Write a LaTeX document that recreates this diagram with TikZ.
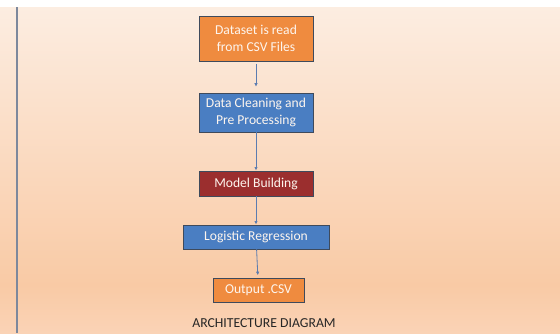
\documentclass[tikz,border=0pt]{standalone}
\usepackage{fontspec}
\setmainfont{Carlito}
\usepackage{xcolor}
\usepackage{tikz}
\usetikzlibrary{arrows.meta}
\definecolor{adorange}{HTML}{EF8B3F}
\definecolor{adblue}{HTML}{4A7EC2}
\definecolor{adred}{HTML}{9B2E2E}
\definecolor{adedge}{HTML}{3E4A5C}
\definecolor{adarrow}{HTML}{5B7CB0}
\definecolor{adtop}{HTML}{FCEDE1}
\definecolor{admid}{HTML}{F9CAA5}
\definecolor{adbot}{HTML}{FAD3B6}
\definecolor{adrule}{HTML}{7D889C}
\definecolor{adtext}{HTML}{FDF5EE}
\tikzset{
  adbox/.style={draw=adedge, line width=0.8pt, text=adtext, align=center,
    inner sep=0pt, font=\fontsize{11.6}{14.5}\selectfont},
  adorangebox/.style={adbox, fill=adorange},
  adbluebox/.style={adbox, fill=adblue},
  adredbox/.style={adbox, fill=adred},
  adflow/.style={draw=adarrow, line width=0.7pt, -{Latex[length=3pt,width=3pt]}},
  adtitle/.style={text=black!85, font=\fontsize{11.7}{13}\selectfont},
}

\begin{document}
\begin{tikzpicture}[x=0.03cm,y=-0.03cm]
\useasboundingbox (0,0) rectangle (560,333);
% background
\fill[white] (0,0) rectangle (560,7);
\shade[top color=adtop, bottom color=admid] (0,7) rectangle (560,285);
\shade[top color=admid, bottom color=adbot] (0,285) rectangle (560,333);
\draw[adrule, line width=1.4pt] (17,7) -- (17,333);
% boxes
\node[adorangebox, minimum width=114*0.03cm, minimum height=45*0.03cm] (read) at (256,38.5) {Dataset is read\\from CSV Files};
\node[adbluebox, minimum width=114*0.03cm, minimum height=39*0.03cm] (clean) at (256,112.5) {Data Cleaning and\\Pre Processing};
\node[adredbox, minimum width=114*0.03cm, minimum height=25*0.03cm] (model) at (256,183.5) {Model Building};
\node[adbluebox, minimum width=146*0.03cm, minimum height=24*0.03cm] (logreg) at (256,237) {Logistic Regression};
\node[adorangebox, minimum width=91*0.03cm, minimum height=24*0.03cm] (output) at (258.5,290) {Output .CSV};
\node[adtitle] (title) at (264,323) {ARCHITECTURE DIAGRAM};
% arrows
\draw[adflow, shorten <=2pt, shorten >=5pt] (read) -- (clean);
\draw[adflow] (clean) -- (model);
\draw[adflow] (model) -- (logreg);
\draw[adflow, shorten >=2pt] (logreg) -- (output);
\end{tikzpicture}
\end{document}
